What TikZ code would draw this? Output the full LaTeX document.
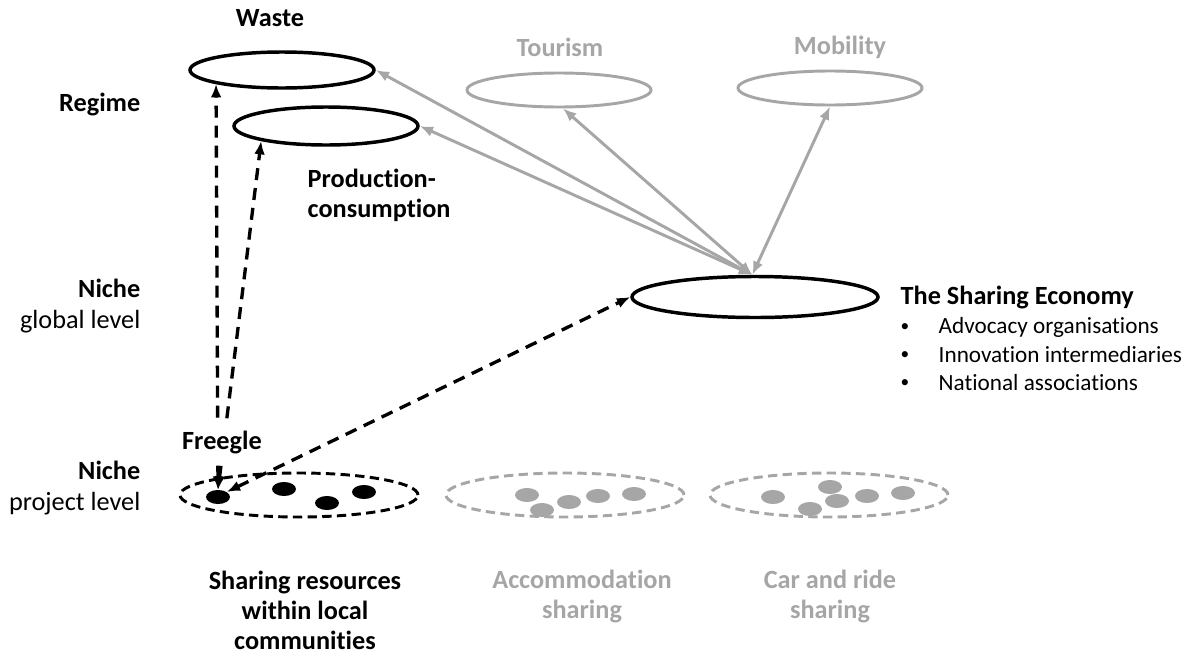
\documentclass[tikz,border=0pt]{standalone}
\usepackage{fontspec}
\setmainfont{Carlito}[Ligatures=NoCommon]
\usetikzlibrary{arrows.meta,positioning,shapes.geometric}
\definecolor{faded}{RGB}{166,166,166}
\tikzset{every picture/.style={
  >={Latex[length=10pt,width=8pt]}      % Filled arrow heads.
  }
}

\begin{document}
\begin{tikzpicture}[
    x=0.75pt,y=-0.75pt,
    every node/.style={font=\fontsize{19.7}{23}\selectfont},
    lbl/.style={font=\fontsize{19.7}{22.5}\selectfont\bfseries},
    sublbl/.style={font=\fontsize{17.4}{21}\selectfont},
    dotlbl/.style={font=\fontsize{13}{15}\selectfont},
    regime/.style={
      ellipse,
      draw,
      line width=2.6pt,
      inner sep=0pt,
      minimum width=138pt,
      minimum height=27pt
    },
    project/.style={
      ellipse,
      draw,
      line width=2.2pt,
      dash pattern=on 7pt off 4pt,
      inner sep=0pt,
      minimum width=178.5pt,
      minimum height=33pt
    },
    member/.style={
      ellipse,
      fill,
      inner sep=0pt,
      minimum width=18pt,
      minimum height=10.5pt
    },
    link/.style={<->,faded,line width=2.2pt},
    tie/.style={<->,line width=2.5pt,dash pattern=on 9pt off 6pt}]

    \useasboundingbox (0,0) rectangle (1191,657);

    % Level labels on the left.
    \node[lbl,anchor=east] (regime) at (145,105) {Regime};
    \node[anchor=east,align=right] (nglobal) at (145,306)
      {\textbf{Niche}\\global level};
    \node[anchor=east,align=right] (nproject) at (145,488)
      {\textbf{Niche}\\project level};

    % Regimes.
    \node[regime] (waste) at (282,70) {};
    \node[lbl] (wastelbl) at (270,18) {Waste};
    \node[regime,minimum height=28.5pt] (prod) at (326,126) {};
    \node[lbl,anchor=west,align=left] (prodlbl) at (303,195)
      {Production-\\consumption};
    \node[regime,faded,line width=2.2pt,minimum height=25.5pt] (tourism)
      at (559,90) {};
    \node[lbl,faded] (tourismlbl) at (560,47) {Tourism};
    \node[regime,faded,line width=2.2pt,minimum height=25.5pt] (mobility)
      at (830,88) {};
    \node[lbl,faded] (mobilitylbl) at (840,47) {Mobility};

    % The global niche.
    \node[regime,minimum width=184.5pt,minimum height=30.75pt] (sharing)
      at (755,297) {};
    \node[lbl,anchor=west] (sharinglbl) at (896,298) {The Sharing Economy};
    \node[sublbl,anchor=west] (adv) at (934,327) {Advocacy organisations};
    \node[sublbl,anchor=west] (innov) at (934,355) {Innovation intermediaries};
    \node[sublbl,anchor=west] (natl) at (934,383) {National associations};
    \node[dotlbl] (b1) at (905,328) {\textbullet};
    \node[dotlbl] (b2) at (905,356) {\textbullet};
    \node[dotlbl] (b3) at (905,384) {\textbullet};

    % Project level niches.
    \node[project] (local) at (299,495) {};
    \node[project,faded] (accom) at (565,495) {};
    \node[project,faded] (car) at (829,495) {};
    \node[member] (fdot) at (218,497) {};
    \node[member] (m2) at (284,489) {};
    \node[member] (m3) at (327,503) {};
    \node[member] (m4) at (364,492) {};
    \foreach \px/\py [count=\i] in {527/495,542/510,569/502,598/496,634/494}
      \node[member,faded] (a\i) at (\px,\py) {};
    \foreach \px/\py [count=\i] in {773/497,830/487,837/501,810/509,867/496,903/493}
      \node[member,faded] (c\i) at (\px,\py) {};

    \node[lbl,align=center] (locallbl) at (305,610)
      {Sharing resources\\within local\\communities};
    \node[lbl,faded,align=center] (accomlbl) at (582,596)
      {Accommodation\\sharing};
    \node[lbl,faded,align=center] (carlbl) at (830,596)
      {Car and ride\\sharing};

    % Links between the global niche and the regimes.
    \coordinate (hub) at ([xshift=-2pt] sharing.north);
    \draw[link] (hub) -- (waste.east);
    \draw[link] (hub) -- (prod.east);
    \draw[link] (hub) -- ([xshift=3pt] tourism.south);
    \draw[link] (hub) -- (mobility.south);

    % Freegle and its ties.
    \draw[tie] (fdot.north) -- (waste.192);
    \draw[tie] (fdot.north) -- (prod.193);
    \draw[tie] (fdot.30) -- (sharing.west);
    \node[lbl,fill=white,inner xsep=2pt,minimum height=30pt] (freegle)
      at (222,443) {Freegle};
  \end{tikzpicture}
\end{document}
